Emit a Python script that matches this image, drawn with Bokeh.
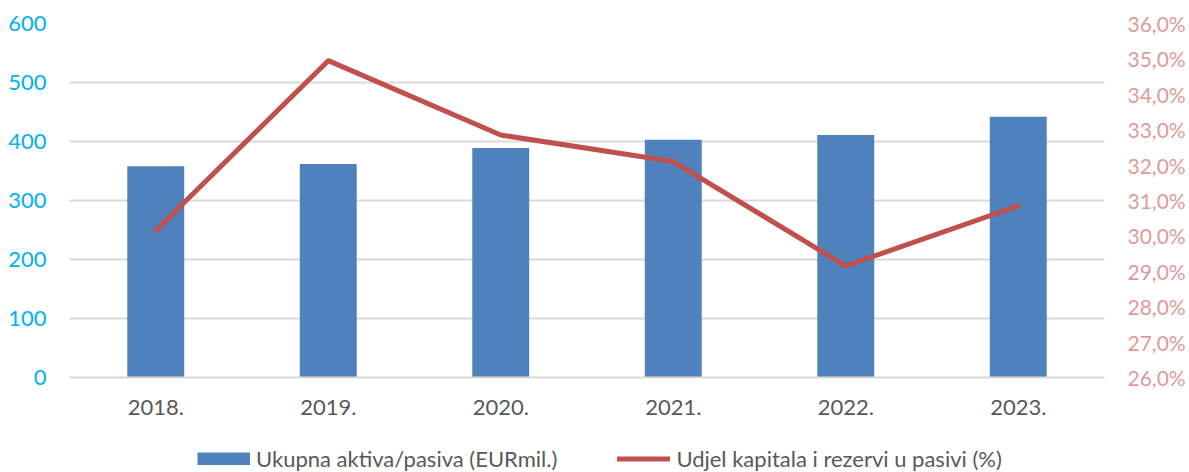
from bokeh.plotting import figure
from bokeh.layouts import column
from bokeh.models import (FactorRange, Range1d, LinearAxis, SingleIntervalTicker,
                          CustomJSTickFormatter, Legend, LegendItem)
from bokeh.embed import file_html
from bokeh.resources import INLINE

years = ["2018.", "2019.", "2020.", "2021.", "2022.", "2023."]
assets = [358, 362, 389, 403, 411, 442]
capital_share = [30.15, 34.95, 32.85, 32.1, 29.15, 30.85]

bar_label = "Ukupna aktiva/pasiva (EURmil.)"
line_label = "Udjel kapitala i rezervi u pasivi (%)"

FONT = "Lato"
BAR_COLOR = "#4F81BD"
LINE_COLOR = "#C0504D"

p = figure(x_range=FactorRange(*years), y_range=Range1d(0, 600),
           width=1189, height=440, output_backend="svg", toolbar_location=None,
           min_border_left=69, min_border_right=85, min_border_top=23,
           min_border_bottom=63)
p.outline_line_color = None
p.background_fill_color = "white"
p.border_fill_color = "white"

p.extra_y_ranges = {"pct": Range1d(26, 36)}

bars = p.vbar(x=years, top=assets, width=0.33, color=BAR_COLOR, line_color=None)
line = p.line(x=years, y=capital_share, y_range_name="pct", line_color=LINE_COLOR,
              line_width=5, line_join="round", line_cap="round")

# left axis
ya = p.yaxis[0]
ya.ticker = SingleIntervalTicker(interval=100)
ya.axis_line_color = None
ya.major_tick_line_color = None
ya.minor_tick_line_color = None
ya.major_tick_out = 0
ya.major_tick_in = 0
ya.minor_tick_out = 0
ya.major_label_text_color = "#00B0F0"
ya.major_label_text_font = FONT
ya.major_label_text_font_size = "22px"
ya.major_label_standoff = 23

# right axis
ra = LinearAxis(y_range_name="pct", ticker=SingleIntervalTicker(interval=1),
                formatter=CustomJSTickFormatter(code="return tick.toFixed(1).replace('.', ',') + '%';"))
ra.axis_line_color = None
ra.major_tick_line_color = None
ra.minor_tick_line_color = None
ra.major_tick_out = 0
ra.major_tick_in = 0
ra.minor_tick_out = 0
ra.major_label_text_color = "#E09A9A"
ra.major_label_text_font = FONT
ra.major_label_text_font_size = "21px"
ra.major_label_standoff = 23
p.add_layout(ra, "right")

# x axis
xa = p.xaxis[0]
xa.axis_line_color = "#D9D9D9"
xa.axis_line_width = 2
xa.major_tick_line_color = None
xa.minor_tick_line_color = None
xa.major_tick_out = 0
xa.major_tick_in = 0
xa.minor_tick_out = 0
xa.major_label_text_color = "#595959"
xa.major_label_text_font = FONT
xa.major_label_text_font_size = "22px"
xa.major_label_standoff = 22

p.xgrid.grid_line_color = None
p.ygrid.grid_line_color = "#D9D9D9"
p.ygrid.grid_line_width = 2
p.ygrid.ticker = SingleIntervalTicker(interval=100)

# legend strip below the chart (its frame is aligned with the chart's frame)
lf = figure(width=1189, height=32, x_range=Range1d(0, 1), y_range=Range1d(0, 1),
            output_backend="svg", toolbar_location=None,
            x_axis_type=None, y_axis_type=None,
            min_border=0, min_border_left=0, min_border_right=0,
            min_border_top=0, min_border_bottom=0)
lf.outline_line_color = None
lf.xgrid.visible = False
lf.ygrid.visible = False
# off-range placeholder glyphs that only serve as legend swatches
lbar = lf.line(x=[5, 6], y=[5, 5], line_color=BAR_COLOR, line_width=13, line_cap="butt")
lline = lf.line(x=[5, 6], y=[5, 5], line_color=LINE_COLOR, line_width=5, line_cap="round")

legend = Legend(items=[LegendItem(label=bar_label, renderers=[lbar]),
                       LegendItem(label=line_label, renderers=[lline])],
                orientation="horizontal", location=(128, 0),
                glyph_width=53, glyph_height=13, spacing=60, label_standoff=6,
                padding=0, margin=0, border_line_color=None,
                background_fill_alpha=0,
                label_text_font=FONT, label_text_font_size="22px",
                label_text_color="#595959")
lf.add_layout(legend, "center")

layout = column(p, lf, spacing=0)

open("out.html", "w").write(file_html(layout, INLINE))
